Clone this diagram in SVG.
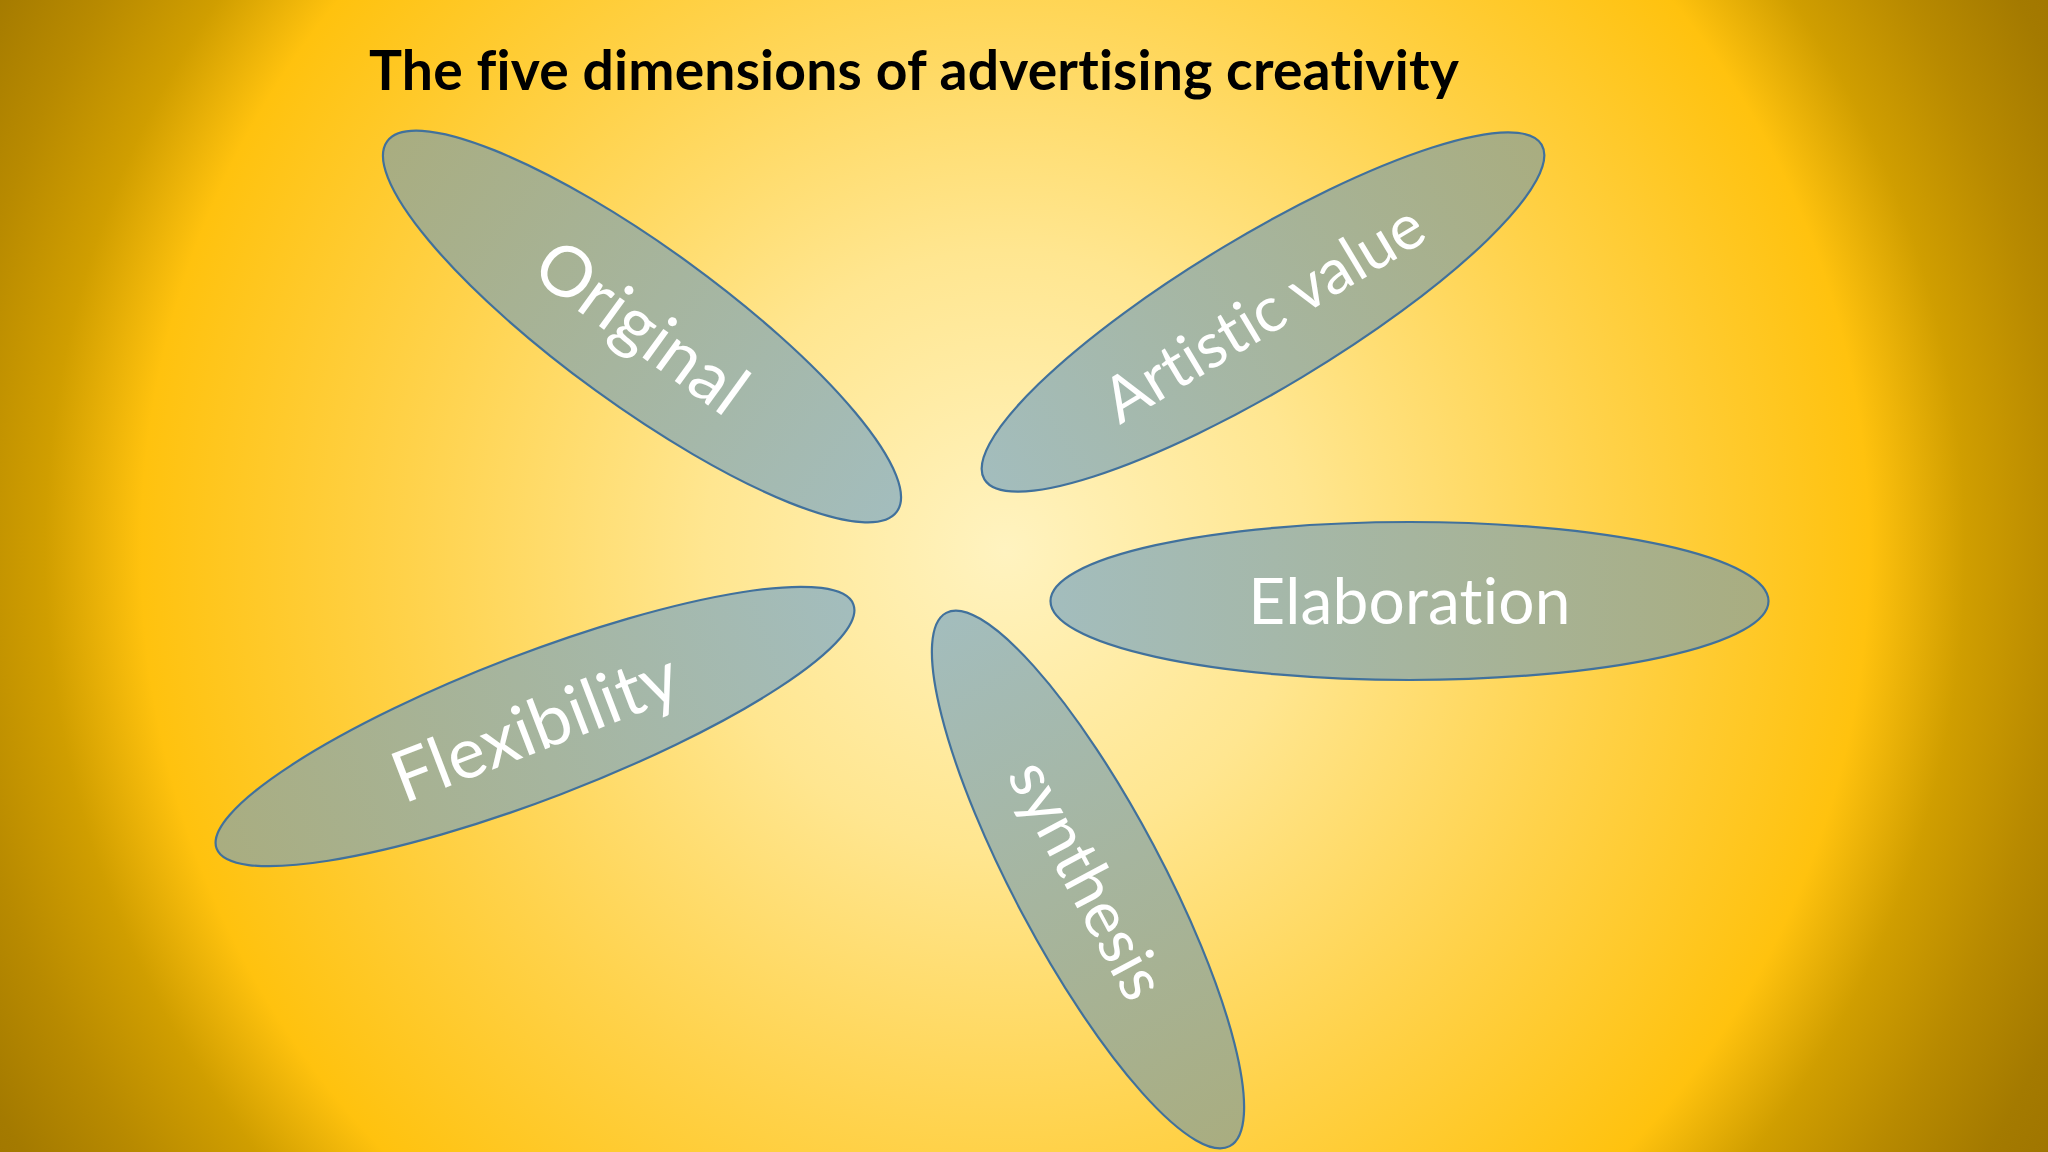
<svg xmlns="http://www.w3.org/2000/svg" width="2048" height="1152" viewBox="0 0 2048 1152">
  <defs>
    <radialGradient id="bg" gradientUnits="userSpaceOnUse" cx="1005" cy="550" r="1200">
      <stop offset="0" stop-color="#fff3c0"/>
      <stop offset="0.25" stop-color="#ffe690"/>
      <stop offset="0.5" stop-color="#ffd24a"/>
      <stop offset="0.72" stop-color="#ffc20e"/>
      <stop offset="0.8" stop-color="#d09e00"/>
      <stop offset="0.88" stop-color="#b88a00"/>
      <stop offset="0.96" stop-color="#a47a00"/>
      <stop offset="1" stop-color="#a07600"/>
    </radialGradient>
    <linearGradient id="gradL" x1="0" y1="0" x2="1" y2="0">
      <stop offset="0" stop-color="#a3bdbd"/>
      <stop offset="1" stop-color="#a9ad80"/>
    </linearGradient>
    <linearGradient id="gradR" x1="0" y1="0" x2="1" y2="0">
      <stop offset="0" stop-color="#a9ad80"/>
      <stop offset="1" stop-color="#a3bdbd"/>
    </linearGradient>
    <style>
      .petal { stroke: #41719c; stroke-width: 2.2; }
      .label { font-family: Lato, "Open Sans", "Liberation Sans", sans-serif; font-size: 64px; fill: #ffffff; text-anchor: middle; letter-spacing: 0.2px; font-variant-ligatures: none; font-feature-settings: "liga" 0, "dlig" 0, "clig" 0; }
      .title { font-family: Lato, "Open Sans", "Liberation Sans", sans-serif; font-weight: bold; font-size: 56px; fill: #000000; letter-spacing: 0.2px; font-variant-ligatures: none; font-feature-settings: "liga" 0, "dlig" 0, "clig" 0; }
    </style>
  </defs>

  <rect x="0" y="0" width="2048" height="1152" fill="url(#bg)"/>

  <g id="title">
    <text class="title" x="369" y="90" textLength="1090" lengthAdjust="spacingAndGlyphs">The five dimensions of advertising creativity</text>
  </g>

  <g id="connectors"/>

  <g id="node-original" transform="translate(642,326.5) rotate(36)">
    <ellipse class="petal" cx="0" cy="0" rx="315" ry="79" fill="url(#gradR)"/>
    <text class="label" x="0" y="25" style="font-size:70px">Original</text>
  </g>

  <g id="node-artistic-value" transform="translate(1263,312) rotate(-31)">
    <ellipse class="petal" cx="0" cy="0" rx="325" ry="76" fill="url(#gradL)"/>
    <text class="label" x="0" y="23" style="font-size:63px">Artistic value</text>
  </g>

  <g id="node-elaboration" transform="translate(1409.5,601)">
    <ellipse class="petal" cx="0" cy="0" rx="359" ry="79" fill="url(#gradL)"/>
    <text class="label" x="0" y="23">Elaboration</text>
  </g>

  <g id="node-flexibility" transform="translate(535,726.5) rotate(-21)">
    <ellipse class="petal" cx="0" cy="0" rx="341" ry="72.5" fill="url(#gradR)"/>
    <text class="label" x="0" y="25" style="font-size:71px">Flexibility</text>
  </g>

  <g id="node-synthesis" transform="translate(1088,879.5) rotate(62)">
    <ellipse class="petal" cx="0" cy="0" rx="302" ry="74" fill="url(#gradL)"/>
    <text class="label" x="0" y="23">synthesis</text>
  </g>
</svg>
